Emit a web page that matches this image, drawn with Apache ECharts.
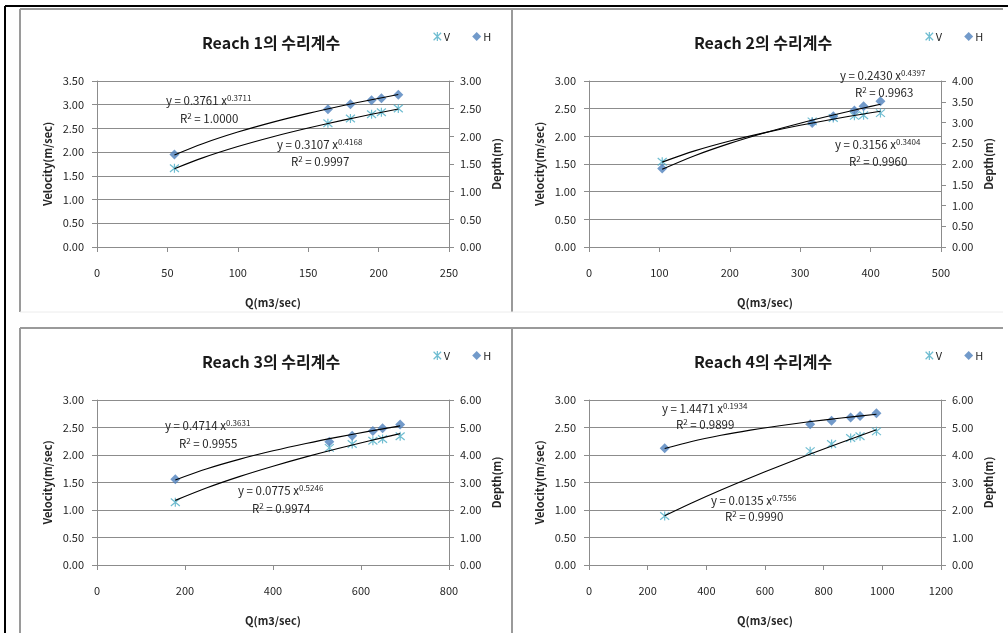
<!DOCTYPE html>
<html>
<head>
<meta charset="utf-8">
<script src="https://cdn.jsdelivr.net/npm/echarts@6/dist/echarts.min.js"></script>
<style>
html,body{margin:0;padding:0;background:#fff;}
#chart{width:1008px;height:633px;}
</style>
</head>
<body>
<div id="chart"></div>
<script>
// ---------- data ----------
const titles = ['Reach 1의 수리계수', 'Reach 2의 수리계수', 'Reach 3의 수리계수', 'Reach 4의 수리계수'];

const reach1Q = [55, 164, 180, 195, 202, 214];
const reach1V = [1.66, 2.61, 2.71, 2.80, 2.84, 2.92];
const reach1H = [1.67, 2.49, 2.58, 2.65, 2.69, 2.75];
const reach1TrendQ = [55, 75, 100, 125, 150, 175, 195, 214];
const reach1TrendV = [1.651, 1.879, 2.118, 2.325, 2.508, 2.675, 2.798, 2.908];
const reach1TrendH = [1.664, 1.867, 2.077, 2.257, 2.415, 2.557, 2.662, 2.755];

const reach2Q = [104, 317, 347, 377, 390, 414];
const reach2V = [1.54, 2.27, 2.33, 2.37, 2.38, 2.42];
const reach2H = [1.89, 2.99, 3.15, 3.29, 3.39, 3.51];
const reach2TrendQ = [104, 150, 200, 250, 300, 350, 390, 414];
const reach2TrendV = [1.534, 1.737, 1.916, 2.067, 2.200, 2.318, 2.405, 2.454];
const reach2TrendH = [1.873, 2.200, 2.497, 2.754, 2.984, 3.193, 3.349, 3.438];

const reach3Q = [178, 528, 580, 627, 649, 689];
const reach3V = [1.14, 2.13, 2.20, 2.26, 2.29, 2.34];
const reach3H = [3.12, 4.48, 4.70, 4.87, 4.97, 5.11];
const reach3TrendQ = [178, 250, 325, 400, 475, 550, 620, 689];
const reach3TrendV = [1.175, 1.404, 1.611, 1.796, 1.966, 2.123, 2.260, 2.389];
const reach3TrendH = [3.094, 3.500, 3.850, 4.152, 4.419, 4.660, 4.868, 5.058];

const reach4Q = [258, 754, 827, 892, 924, 980];
const reach4V = [0.89, 2.07, 2.20, 2.31, 2.34, 2.43];
const reach4H = [4.25, 5.12, 5.25, 5.36, 5.42, 5.52];
const reach4TrendQ = [258, 350, 450, 550, 650, 750, 860, 980];
const reach4TrendV = [0.897, 1.129, 1.365, 1.588, 1.802, 2.008, 2.227, 2.458];
const reach4TrendH = [4.236, 4.493, 4.716, 4.903, 5.065, 5.207, 5.346, 5.483];

// axes
const xMax = [250, 500, 800, 1200];
const xInterval = [50, 100, 200, 200];
const leftMax = [3.5, 3, 3, 3];
const leftInterval = [0.5, 0.5, 0.5, 0.5];
const rightMax = [3, 4, 6, 6];
const rightInterval = [0.5, 0.5, 1, 1];

// equation labels
const eqCoefH = ['0.3761', '0.2430', '0.4714', '1.4471'];
const eqExpH = ['0.3711', '0.4397', '0.3631', '0.1934'];
const eqR2H = ['1.0000', '0.9963', '0.9955', '0.9899'];
const eqCoefV = ['0.3107', '0.3156', '0.0775', '0.0135'];
const eqExpV = ['0.4168', '0.3404', '0.5246', '0.7556'];
const eqR2V = ['0.9997', '0.9960', '0.9974', '0.9990'];

// ---------- layout / style ----------
const reaches = [
  {Q: reach1Q, V: reach1V, H: reach1H, tQ: reach1TrendQ, tV: reach1TrendV, tH: reach1TrendH},
  {Q: reach2Q, V: reach2V, H: reach2H, tQ: reach2TrendQ, tV: reach2TrendV, tH: reach2TrendH},
  {Q: reach3Q, V: reach3V, H: reach3H, tQ: reach3TrendQ, tV: reach3TrendV, tH: reach3TrendH},
  {Q: reach4Q, V: reach4V, H: reach4H, tQ: reach4TrendQ, tV: reach4TrendV, tH: reach4TrendH}
];
const FONT = "'Noto Sans CJK KR', 'Noto Sans', sans-serif";
const GRIDS = [
  {left: 97, top: 81, width: 352, height: 166},
  {left: 589, top: 81, width: 352, height: 166},
  {left: 97, top: 400, width: 352, height: 165},
  {left: 589, top: 400, width: 352, height: 165}
];
const TITLE_POS = [[266, 38], [758, 38], [266, 357], [758, 357]];
const LEGEND_POS = [[428, 26], [920, 26], [428, 345], [920, 345]];
// equation label anchors: [H-eq x, y, R2 x, y, V-eq x, y, R2 x, y]
const EQ_POS = [
  [166, 99, 180, 117, 277, 143, 291, 160],
  [840, 74, 855, 91, 835, 143, 849, 160],
  [165, 424, 179, 442, 238, 489, 252, 507],
  [662, 407, 676, 423, 711, 499, 725, 515]
];
const V_COLOR = '#4bacc6';
const H_COLOR = '#4f81bd';
const AXIS_COLOR = '#8c8c8c';
const TEXT_COLOR = '#262626';
const ASTERISK = 'path://M0,0L10,10M10,0L0,10M5,-1L5,11';

const option = {
  animation: false,
  backgroundColor: '#ffffff',
  textStyle: {fontFamily: FONT},
  title: [], legend: [], grid: [], xAxis: [], yAxis: [], series: [], graphic: []
};

function fmt2(v) { return v.toFixed(2); }
function fmtX(v) { return String(v); }

for (let i = 0; i < 4; i++) {
  const r = reaches[i];
  option.grid.push(Object.assign({containLabel: false}, GRIDS[i]));
  option.title.push({
    text: titles[i], left: TITLE_POS[i][0], top: TITLE_POS[i][1], textAlign: 'center', textVerticalAlign: 'middle',
    textStyle: {fontFamily: FONT, fontSize: 16, fontWeight: 'bold', color: '#1a1a1a'}
  });
  option.legend.push({
    left: LEGEND_POS[i][0], top: LEGEND_POS[i][1], itemWidth: 9, itemHeight: 9, itemGap: 22, selectedMode: false,
    textStyle: {fontFamily: FONT, fontSize: 11, color: TEXT_COLOR, padding: [0, 0, 0, -3]},
    data: [
      {name: 'V', icon: ASTERISK, itemStyle: {color: 'rgba(0,0,0,0)', borderColor: V_COLOR, borderWidth: 1.2}},
      {name: 'H', icon: 'diamond', itemStyle: {color: H_COLOR}}
    ]
  });
  option.xAxis.push({
    type: 'value', gridIndex: i, min: 0, max: xMax[i], interval: xInterval[i],
    name: 'Q(m3/sec)', nameLocation: 'middle', nameGap: 50,
    nameTextStyle: {fontFamily: FONT, fontSize: 11, fontWeight: 'bold', color: TEXT_COLOR},
    axisLine: {show: true, onZero: false, lineStyle: {color: AXIS_COLOR, width: 1}},
    axisTick: {show: true, inside: false, length: 5, lineStyle: {color: AXIS_COLOR}},
    axisLabel: {margin: 20, fontFamily: FONT, fontSize: 11, color: TEXT_COLOR, formatter: fmtX},
    splitLine: {show: false}
  });
  option.yAxis.push({
    type: 'value', gridIndex: i, position: 'left', min: 0, max: leftMax[i], interval: leftInterval[i],
    name: 'Velocity(m/sec)', nameLocation: 'middle', nameGap: 44, nameRotate: 90,
    nameTextStyle: {fontFamily: FONT, fontSize: 11, fontWeight: 'bold', color: TEXT_COLOR},
    axisLine: {show: true, lineStyle: {color: AXIS_COLOR, width: 1}},
    axisTick: {show: true, inside: false, length: 5, lineStyle: {color: AXIS_COLOR}},
    axisLabel: {margin: 13, fontFamily: FONT, fontSize: 11, color: TEXT_COLOR, formatter: fmt2},
    splitLine: {show: true, lineStyle: {color: AXIS_COLOR, width: 1}}
  });
  option.yAxis.push({
    type: 'value', gridIndex: i, position: 'right', min: 0, max: rightMax[i], interval: rightInterval[i],
    name: 'Depth(m)', nameLocation: 'middle', nameGap: 42, nameRotate: 90,
    nameTextStyle: {fontFamily: FONT, fontSize: 11, fontWeight: 'bold', color: TEXT_COLOR},
    axisLine: {show: true, lineStyle: {color: AXIS_COLOR, width: 1}},
    axisTick: {show: true, inside: false, length: 5, lineStyle: {color: AXIS_COLOR}},
    axisLabel: {margin: 11, fontFamily: FONT, fontSize: 11, color: TEXT_COLOR, formatter: fmt2},
    splitLine: {show: false}
  });
  const pair = (xs, ys) => xs.map((x, k) => [x, ys[k]]);
  option.series.push({
    name: 'V', type: 'scatter', xAxisIndex: i, yAxisIndex: 2 * i, data: pair(r.Q, r.V),
    symbol: ASTERISK, symbolSize: 9, z: 3,
    itemStyle: {color: 'rgba(0,0,0,0)', borderColor: V_COLOR, borderWidth: 1.2}
  });
  option.series.push({
    name: 'H', type: 'scatter', xAxisIndex: i, yAxisIndex: 2 * i + 1, data: pair(r.Q, r.H),
    symbol: 'diamond', symbolSize: 10, z: 3, itemStyle: {color: H_COLOR}
  });
  option.series.push({
    name: 'trendV' + i, type: 'line', xAxisIndex: i, yAxisIndex: 2 * i, data: pair(r.tQ, r.tV),
    showSymbol: false, smooth: 0.3, z: 4, lineStyle: {color: '#000', width: 1.1}
  });
  option.series.push({
    name: 'trendH' + i, type: 'line', xAxisIndex: i, yAxisIndex: 2 * i + 1, data: pair(r.tQ, r.tH),
    showSymbol: false, smooth: 0.3, z: 4, lineStyle: {color: '#000', width: 1.1}
  });

  const p = EQ_POS[i];
  const eqRich = {
    n: {fontFamily: FONT, fontSize: 11.5, fill: TEXT_COLOR, verticalAlign: 'bottom', lineHeight: 15},
    s: {fontFamily: FONT, fontSize: 8, fill: TEXT_COLOR, verticalAlign: 'bottom', lineHeight: 9, padding: [0, 0, 5, 0]}
  };
  option.graphic.push({type: 'text', x: p[0], y: p[1], z: 10, style: {
    text: '{n|y = ' + eqCoefH[i] + ' x}{s|' + eqExpH[i] + '}', rich: eqRich, verticalAlign: 'middle'}});
  option.graphic.push({type: 'text', x: p[2], y: p[3], z: 10, style: {
    text: '{n|R}{s|2}{n| = ' + eqR2H[i] + '}', rich: eqRich, verticalAlign: 'middle'}});
  option.graphic.push({type: 'text', x: p[4], y: p[5], z: 10, style: {
    text: '{n|y = ' + eqCoefV[i] + ' x}{s|' + eqExpV[i] + '}', rich: eqRich, verticalAlign: 'middle'}});
  option.graphic.push({type: 'text', x: p[6], y: p[7], z: 10, style: {
    text: '{n|R}{s|2}{n| = ' + eqR2V[i] + '}', rich: eqRich, verticalAlign: 'middle'}});
}

// frames
const FRAME = '#9a9a9a';
const lines = [
  [5, 6, 1008, 6, '#000', 2], [5, 6, 5, 633, '#000', 2],
  [20, 9, 512, 9, FRAME, 2], [20, 9, 20, 312, FRAME, 2],
  [512, 9, 1003, 9, FRAME, 2], [512, 9, 512, 312, FRAME, 2],
  [20, 312, 1003, 312, '#ececec', 1],
  [20, 328, 512, 328, FRAME, 2], [20, 328, 20, 633, FRAME, 2],
  [512, 328, 1003, 328, FRAME, 2], [512, 328, 512, 633, FRAME, 2]
];
lines.forEach(l => option.graphic.push({
  type: 'line', z: 0, silent: true,
  shape: {x1: l[0], y1: l[1], x2: l[2], y2: l[3]},
  style: {stroke: l[4], lineWidth: l[5]}
}));

const chart = echarts.init(document.getElementById('chart'), null, {renderer: 'canvas'});
chart.setOption(option);
</script>
</body>
</html>
